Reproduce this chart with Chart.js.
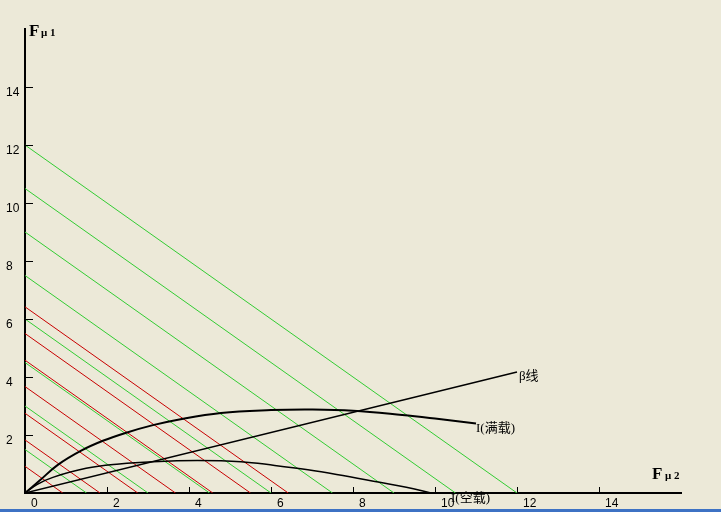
<!DOCTYPE html>
<html>
<head>
<meta charset="utf-8">
<script src="https://cdn.jsdelivr.net/npm/chart.js@4.4.0/dist/chart.umd.min.js"></script>
<style>
  html, body { margin: 0; padding: 0; background: #ECE9D8; }
  #wrap { position: relative; width: 721px; height: 512px; overflow: hidden; }
  #strip { position: absolute; left: 0; top: 509px; width: 721px; height: 3px; background: #3d72c4; }
</style>
</head>
<body>
<div id="wrap">
  <canvas id="chart" width="721" height="512"></canvas>
  <div id="strip"></div>
</div>
<script>
// tick labels
const xTickLabels = ['0', '2', '4', '6', '8', '10', '12', '14'];
const yTickLabels = ['2', '4', '6', '8', '10', '12', '14'];

// green and red lines: x + y = level
const greenLevels = [1.5, 3, 4.5, 6, 7.5, 9, 10.5, 12];
const redLevels = [0.92, 1.83, 2.75, 3.67, 4.58, 5.5, 6.42];

// I (full load) curve
const fullX = [0, 0.35, 0.8, 1.37, 1.9, 2.47, 3.12, 3.7, 4.78, 6.0, 7.0, 8.0, 9.2, 10.1, 11.0];
const fullY = [0, 0.42, 0.97, 1.46, 1.8, 2.08, 2.34, 2.52, 2.76, 2.86, 2.88, 2.84, 2.69, 2.55, 2.4];

// I (no load) curve
const emptyX = [0, 0.3, 0.68, 1.49, 2.3, 3.12, 4.2, 5.27, 6.09, 6.9, 7.6, 8.65, 9.3, 9.9];
const emptyY = [0, 0.3, 0.54, 0.85, 1.0, 1.08, 1.12, 1.08, 0.95, 0.8, 0.64, 0.37, 0.2, 0];

// beta line
const betaX = [0, 12];
const betaY = [0, 4.17];

function pts(xs, ys) {
  return xs.map((x, i) => ({ x: x, y: ys[i] }));
}

const datasets = [];
datasets.push({ data: pts(fullX, fullY), borderColor: '#000', borderWidth: 2, tension: 0.4 });
datasets.push({ data: pts(emptyX, emptyY), borderColor: '#000', borderWidth: 1.5, tension: 0.4 });
datasets.push({ data: pts(betaX, betaY), borderColor: '#000', borderWidth: 1.5 });
redLevels.forEach(c => {
  datasets.push({ data: [{ x: 0, y: c }, { x: c, y: 0 }], borderColor: '#c80000', borderWidth: 1 });
});
greenLevels.forEach(c => {
  datasets.push({ data: [{ x: 0, y: c }, { x: c, y: 0 }], borderColor: '#33cc33', borderWidth: 1 });
});
datasets.forEach(d => { d.showLine = true; d.pointRadius = 0; d.fill = false; });

// inner tick marks and the text labels
const decorations = {
  id: 'decorations',
  afterDraw(chart) {
    const ctx = chart.ctx;
    const xs = chart.scales.x, ys = chart.scales.y;
    const left = chart.chartArea.left, bottom = chart.chartArea.bottom;
    ctx.save();
    ctx.strokeStyle = '#000';
    ctx.lineWidth = 1;
    for (let v = 2; v <= 14; v += 2) {
      const py = Math.round(ys.getPixelForValue(v)) + 0.5;
      ctx.beginPath(); ctx.moveTo(left, py); ctx.lineTo(left + 8, py); ctx.stroke();
      const px = Math.round(xs.getPixelForValue(v)) + 0.5;
      ctx.beginPath(); ctx.moveTo(px, bottom); ctx.lineTo(px, bottom - 6); ctx.stroke();
    }
    ctx.fillStyle = '#000';
    ctx.textBaseline = 'middle';
    ctx.textAlign = 'left';
    ctx.font = "13px 'Liberation Serif', 'Noto Sans CJK SC'";
    ctx.fillText('β线', 519, 377);
    ctx.fillText('I(满载)', 476, 429);
    ctx.fillText('I(空载)', 451, 499);

    ctx.textBaseline = 'alphabetic';
    ctx.font = "bold 17px 'Liberation Serif'";
    ctx.fillText('F', 29, 36);
    ctx.fillText('F', 652, 479);
    ctx.font = "bold 11px 'Liberation Serif'";
    ctx.fillText('μ 1', 41, 36);
    ctx.fillText('μ 2', 665, 479);
    ctx.restore();
  }
};

const tickFont = { family: "'Liberation Sans', Arial, sans-serif", size: 12 };

new Chart(document.getElementById('chart').getContext('2d'), {
  type: 'scatter',
  data: { datasets: datasets },
  options: {
    responsive: false,
    animation: false,
    layout: { padding: { top: 29, right: 40, left: 6, bottom: 0 } },
    plugins: { legend: { display: false }, tooltip: { enabled: false } },
    scales: {
      x: {
        type: 'linear', min: 0, max: 16,
        afterFit(scale) { scale.height = 19; },
        grid: { drawOnChartArea: false, drawTicks: false },
        border: { display: true, color: '#000', width: 2 },
        ticks: {
          stepSize: 2, autoSkip: false, maxRotation: 0,
          align: 'start', labelOffset: 6, padding: 3,
          color: '#000', font: tickFont,
          callback: v => xTickLabels.includes(String(v)) ? String(v) : ''
        }
      },
      y: {
        type: 'linear', min: 0, max: 16,
        afterFit(scale) { scale.width = 19; },
        grid: { drawOnChartArea: false, drawTicks: false },
        border: { display: true, color: '#000', width: 2 },
        ticks: {
          stepSize: 2, autoSkip: false,
          crossAlign: 'far', labelOffset: 6, padding: 8,
          color: '#000', font: tickFont,
          callback: v => yTickLabels.includes(String(v)) ? String(v) : ''
        }
      }
    }
  },
  plugins: [decorations]
});
</script>
</body>
</html>
